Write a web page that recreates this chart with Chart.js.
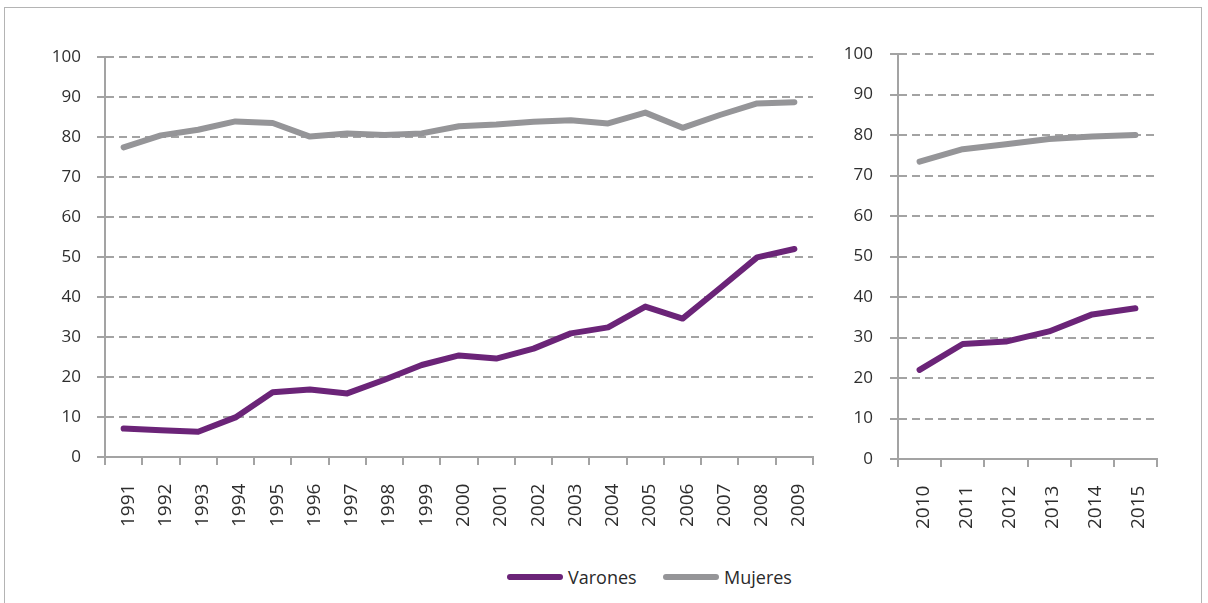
<!DOCTYPE html>
<html>
<head>
<meta charset="utf-8">
<script src="https://cdn.jsdelivr.net/npm/chart.js@4/dist/chart.umd.min.js"></script>
<style>
  html, body { margin: 0; padding: 0; background: #fff; }
  #wrap { position: relative; width: 1208px; height: 603px; overflow: hidden; background: #fff; font-family: "Open Sans", sans-serif; }
  #frame { position: absolute; left: 4px; top: 7px; width: 1198px; height: 700px; border: 1px solid #b4b4b4; box-sizing: border-box; }
  #c1 { position: absolute; left: 0; top: 0; }
  #c2 { position: absolute; left: 840px; top: 0; }
  .leg { position: absolute; top: 565px; height: 24px; display: flex; align-items: center; font-size: 18px; color: #2a2a2a; }
  .sw { width: 56px; height: 6px; border-radius: 3px; margin-right: 5px; }
</style>
</head>
<body>
<div id="wrap">
  <div id="frame"></div>
  <canvas id="c1" width="830" height="560"></canvas>
  <canvas id="c2" width="368" height="560"></canvas>
  <div class="leg" style="left:507px;"><div class="sw" style="background:#6b2478"></div><span id="l1"></span></div>
  <div class="leg" style="left:663px;"><div class="sw" style="background:#959598"></div><span id="l2"></span></div>
</div>
<script>
// ---- data ----
const seriesNames = ["Varones", "Mujeres"];
const years1 = ["1991","1992","1993","1994","1995","1996","1997","1998","1999","2000","2001","2002","2003","2004","2005","2006","2007","2008","2009"];
const varones1 = [7.1, 6.7, 6.3, 9.9, 16.2, 16.9, 15.9, 19.3, 23.0, 25.4, 24.6, 27.1, 30.9, 32.4, 37.6, 34.6, 42.2, 49.9, 52.0];
const mujeres1 = [77.4, 80.4, 81.8, 83.9, 83.5, 80.1, 80.9, 80.5, 80.9, 82.7, 83.1, 83.8, 84.2, 83.4, 86.1, 82.3, 85.5, 88.4, 88.7];
const years2 = ["2010","2011","2012","2013","2014","2015"];
const varones2 = [22.0, 28.4, 29.0, 31.5, 35.7, 37.2];
const mujeres2 = [73.4, 76.5, 77.7, 79.0, 79.6, 80.0];
const yTicks = [0, 10, 20, 30, 40, 50, 60, 70, 80, 90, 100];

document.getElementById('l1').textContent = seriesNames[0];
document.getElementById('l2').textContent = seriesNames[1];

const PURPLE = '#6b2478';
const GREY = '#959598';
const AXIS = '#a3a3a3';
const TEXT = '#2e2e2e';

function xLabelPlugin(baseY, shift) {
  return {
    id: 'xlabels',
    afterDraw(chart) {
      const sc = chart.scales.x;
      const ctx = chart.ctx;
      ctx.save();
      ctx.font = '19px "Open Sans"';
      ctx.fillStyle = TEXT;
      ctx.textAlign = 'left';
      ctx.textBaseline = 'alphabetic';
      const labels = chart.data.labels;
      for (let i = 0; i < labels.length; i++) {
        const x = sc.getPixelForTick(i);
        ctx.save();
        ctx.translate(x + shift, baseY);
        ctx.rotate(-Math.PI / 2);
        ctx.fillText(labels[i], 0, 0);
        ctx.restore();
      }
      ctx.restore();
    }
  };
}

function makeChart(id, labels, v, m, opts) {
  return new Chart(document.getElementById(id), {
    type: 'line',
    data: {
      labels: labels,
      datasets: [
        { label: seriesNames[1], data: m, borderColor: GREY, borderWidth: 6, pointRadius: 0, tension: 0, borderCapStyle: 'round', borderJoinStyle: 'round' },
        { label: seriesNames[0], data: v, borderColor: PURPLE, borderWidth: 6, pointRadius: 0, tension: 0, borderCapStyle: 'round', borderJoinStyle: 'round' }
      ]
    },
    options: {
      responsive: false,
      animation: false,
      events: [],
      layout: { padding: { left: 0, top: opts.top, right: opts.right, bottom: 0 } },
      plugins: { legend: { display: false }, tooltip: { enabled: false } },
      scales: {
        x: {
          offset: true,
          grid: { offset: true, drawOnChartArea: false, drawTicks: true, tickLength: 8, color: AXIS, lineWidth: 2 },
          border: { display: true, color: AXIS, width: 2 },
          ticks: { display: false },
          afterFit(s) { s.height = opts.xh; }
        },
        y: {
          min: 0, max: 100,
          afterBuildTicks(s) { s.ticks = yTicks.map(v => ({ value: v })); },
          grid: { color: AXIS, lineWidth: 2, tickLength: 8, drawTicks: true },
          border: { display: true, color: AXIS, width: 2, dash: [8, 5] },
          ticks: { color: TEXT, font: { family: 'Open Sans', size: 17 }, padding: opts.pad },
          afterFit(s) { s.width = opts.yw; }
        }
      }
    },
    plugins: [xLabelPlugin(opts.labelY, opts.shift)]
  });
}

makeChart('c1', years1, varones1, mujeres1, { top: 57, right: 17, xh: 103, yw: 105, pad: 16, labelY: 527, shift: 10 });
makeChart('c2', years2, varones2, mujeres2, { top: 54, right: 51, xh: 101, yw: 58, pad: 17, labelY: 529, shift: 9 });
</script>
</body>
</html>
